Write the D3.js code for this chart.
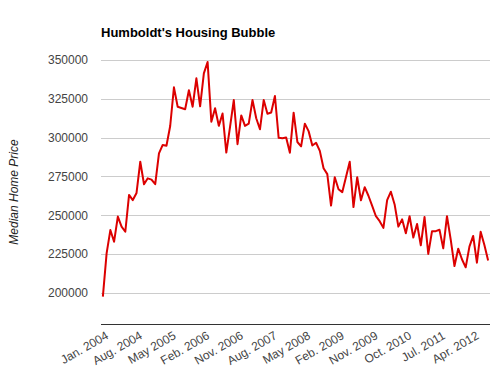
<!DOCTYPE html>
<html>
<head>
<meta charset="utf-8">
<script src="https://cdnjs.cloudflare.com/ajax/libs/d3/7.8.5/d3.min.js"></script>
<style>
  html, body { margin: 0; padding: 0; background: #fff; }
  svg { display: block; font-family: Arial, "Liberation Sans", sans-serif; }
</style>
</head>
<body>
<svg id="chart" width="502" height="388"></svg>
<script>
const title = "Humboldt's Housing Bubble";
const yTitle = "Median Home Price";

const categories = [
  "Jan. 2004","Feb. 2004","Feb. 2004","Mar. 2004","Apr. 2004","May 2004","May 2004","Jun. 2004","Jul. 2004",
  "Aug. 2004","Sep. 2004","Oct. 2004","Nov. 2004","Dec. 2004","Jan. 2005","Feb. 2005","Mar. 2005","Apr. 2005",
  "May 2005","Jun. 2005","Jul. 2005","Aug. 2005","Sep. 2005","Oct. 2005","Nov. 2005","Dec. 2005","Jan. 2006",
  "Feb. 2006","Mar. 2006","Apr. 2006","May 2006","Jun. 2006","Jul. 2006","Aug. 2006","Sep. 2006","Oct. 2006",
  "Nov. 2006","Dec. 2006","Jan. 2007","Feb. 2007","Mar. 2007","Apr. 2007","May 2007","Jun. 2007","Jul. 2007",
  "Aug. 2007","Sep. 2007","Oct. 2007","Nov. 2007","Dec. 2007","Jan. 2008","Feb. 2008","Mar. 2008","Apr. 2008",
  "May 2008","Jun. 2008","Jul. 2008","Aug. 2008","Sep. 2008","Oct. 2008","Nov. 2008","Dec. 2008","Jan. 2009",
  "Feb. 2009","Mar. 2009","Apr. 2009","May 2009","Jun. 2009","Jul. 2009","Aug. 2009","Sep. 2009","Oct. 2009",
  "Nov. 2009","Dec. 2009","Jan. 2010","Feb. 2010","Mar. 2010","May 2010","Jun. 2010","Jul. 2010","Sep. 2010",
  "Oct. 2010","Nov. 2010","Dec. 2010","Jan. 2011","Feb. 2011","Mar. 2011","Apr. 2011","May 2011","Jun. 2011",
  "Jul. 2011","Aug. 2011","Sep. 2011","Oct. 2011","Nov. 2011","Dec. 2011","Jan. 2012","Feb. 2012","Mar. 2012",
  "Apr. 2012","May 2012","Jun. 2012","Jul. 2012","Aug. 2012"
];

const prices = [
  197600, 225500, 240500, 233000, 249200, 242700, 239400, 263100, 259800,
  264400, 284500, 270000, 273800, 273000, 270000, 289900, 295300, 294800,
  307500, 332400, 319900, 319100, 318300, 330500, 319900, 338200, 320200,
  341400, 348700, 310300, 318900, 307600, 315500, 290400, 307000, 324200,
  295800, 314300, 307600, 309000, 324200, 312500, 305400, 324200, 315400,
  316200, 326800, 299900, 299600, 300100, 290300, 316100, 297200, 294400,
  309000, 304200, 294900, 296700, 291500, 280300, 276500, 256300, 274500,
  266800, 264900, 274700, 284500, 255300, 274500, 259700, 268100, 262600,
  256100, 249400, 246200, 241900, 259800, 265200, 257000, 242700, 247400,
  238400, 249400, 235700, 244400, 230700, 248900, 225100, 239800, 239800,
  240700, 228700, 249400, 234300, 217300, 228500, 221700, 216500, 229800,
  236700, 219500, 239400, 230900, 220900
];

const yTicks = [200000, 225000, 250000, 275000, 300000, 325000, 350000];
const xTickIndex = [0, 9, 18, 27, 36, 45, 54, 63, 72, 81, 90, 99];

const svg = d3.select("#chart");
const L = 101, R = 490, T = 60, B = 324;

const x = d3.scaleLinear().domain([-0.5, categories.length - 0.5]).range([L, R]);
const y = d3.scaleLinear().domain([180000, 350000]).range([B, T]);

// gridlines
svg.append("g").selectAll("line").data(yTicks).join("line")
  .attr("x1", L).attr("x2", R)
  .attr("y1", d => Math.round(y(d)) + 0.5).attr("y2", d => Math.round(y(d)) + 0.5)
  .attr("stroke", "#cccccc").attr("stroke-width", 1);

// y axis labels
const yAxis = svg.append("g").attr("transform", `translate(${L},0)`)
  .call(d3.axisLeft(y).tickValues(yTicks).tickSize(0).tickPadding(13).tickFormat(d3.format("d")));
yAxis.select(".domain").remove();
yAxis.selectAll("text").attr("font-size", 12).attr("fill", "#444").attr("font-family", "Arial, 'Liberation Sans', sans-serif");

// baseline
svg.append("line").attr("x1", L).attr("x2", R).attr("y1", B + 0.5).attr("y2", B + 0.5)
  .attr("stroke", "#333").attr("stroke-width", 1);

// x axis labels
const xAxis = svg.append("g").attr("transform", `translate(0,${B})`)
  .call(d3.axisBottom(x).tickValues(xTickIndex).tickSize(0).tickFormat(i => categories[i]));
xAxis.select(".domain").remove();
xAxis.selectAll("text")
  .attr("font-size", 12).attr("fill", "#444").attr("font-family", "Arial, 'Liberation Sans', sans-serif")
  .attr("text-anchor", "end").attr("y", 0).attr("dy", 0)
  .attr("transform", "translate(6,14) rotate(-30)");

// line
const line = d3.line().x((d, i) => x(i)).y(d => y(d));
svg.append("path").datum(prices)
  .attr("d", line).attr("fill", "none")
  .attr("stroke", "#dc0000").attr("stroke-width", 2).attr("stroke-linejoin", "round");

// title
svg.append("text").attr("x", L).attr("y", 37)
  .attr("font-size", 13).attr("font-weight", "bold").attr("fill", "#000")
  .text(title);

// y title
svg.append("text").attr("transform", "translate(18,192) rotate(-90)")
  .attr("text-anchor", "middle").attr("font-size", 12).attr("font-style", "italic").attr("fill", "#222")
  .text(yTitle);
</script>
</body>
</html>
